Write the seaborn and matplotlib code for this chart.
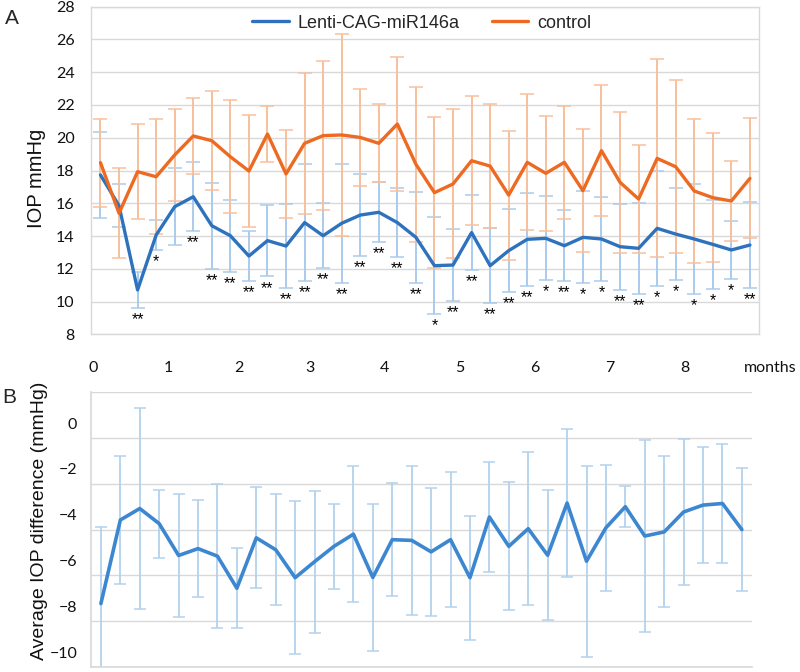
import numpy as np
import pandas as pd
import matplotlib
matplotlib.use("Agg")
import matplotlib.pyplot as plt
import matplotlib.transforms as mtransforms
import seaborn as sns

# ============================================================
# DATA
# ============================================================

# panel A - weekly IOP, mean and SD per group
weeks = list(range(36))
iop_mir = [17.73, 15.85, 10.71, 14.06, 15.79, 16.40, 14.63, 14.02, 12.78, 13.72,
           13.39, 14.82, 14.02, 14.78, 15.28, 15.45, 14.82, 13.92, 12.19, 12.23,
           14.21, 12.19, 13.11, 13.80, 13.86, 13.41, 13.92, 13.82, 13.35, 13.25,
           14.47, 14.12, 13.82, 13.49, 13.15, 13.45]
sd_mir = [2.64, 1.32, 1.08, 0.92, 2.34, 2.10, 2.63, 2.19, 1.53, 2.19,
          2.57, 3.58, 2.00, 3.63, 2.50, 1.84, 2.12, 2.77, 2.96, 2.20,
          2.29, 2.30, 2.55, 2.82, 2.56, 2.17, 2.80, 2.57, 2.62, 2.79,
          3.51, 2.80, 3.35, 2.70, 1.79, 2.62]
iop_ctrl = [18.48, 15.39, 17.93, 17.62, 18.95, 20.11, 19.82, 18.84, 17.97, 20.23,
            17.79, 19.66, 20.13, 20.17, 20.02, 19.66, 20.84, 18.38, 16.65, 17.18,
            18.60, 18.27, 16.50, 18.50, 17.83, 18.50, 16.77, 19.21, 17.28, 16.26,
            18.74, 18.23, 16.75, 16.34, 16.14, 17.52]
sd_ctrl = [2.68, 2.75, 2.90, 3.52, 2.80, 2.34, 3.02, 3.46, 3.43, 1.70,
           2.70, 4.32, 4.56, 6.17, 2.94, 2.38, 4.07, 4.73, 4.63, 4.55,
           3.94, 3.77, 3.94, 4.16, 3.52, 3.44, 3.75, 4.00, 4.30, 3.29,
           6.05, 5.27, 4.37, 3.94, 2.42, 3.66]
stars = ['', '', '**', '*', '', '**', '**', '**', '**', '**',
         '**', '**', '**', '**', '**', '**', '**', '**', '*', '**',
         '**', '**', '**', '**', '*', '**', '*', '*', '**', '**',
         '*', '*', '*', '*', '*', '**']
month_labels = ['0', '1', '2', '3', '4', '5', '6', '7', '8']
month_pos = [-0.4, 3.65, 7.45, 11.3, 15.3, 19.35, 23.4, 27.45, 31.5]

# panel B - average IOP difference
diff_weeks = list(range(34))
diff_mean = [-8.23, -4.58, -4.08, -4.74, -6.13, -5.83, -6.16, -7.56, -5.36, -5.88,
             -7.10, -6.40, -5.73, -5.20, -7.09, -5.44, -5.47, -5.97, -5.44, -7.10,
             -4.45, -5.73, -4.96, -6.12, -3.84, -6.38, -4.92, -4.00, -5.28, -5.10,
             -4.23, -3.93, -3.86, -5.00]
diff_err = [3.35, 2.79, 4.37, 1.49, 2.68, 2.13, 3.14, 1.75, 2.20, 2.42,
            3.34, 3.10, 1.85, 2.97, 3.22, 2.46, 3.26, 2.80, 2.96, 2.70,
            2.40, 2.80, 3.35, 2.83, 3.22, 4.17, 2.75, 0.89, 4.19, 3.30,
            3.20, 2.52, 2.58, 2.68]

# ============================================================
# STYLE
# ============================================================
sns.set_theme(style="white")
plt.rcParams['font.family'] = ['Liberation Sans', 'DejaVu Sans']

BLUE = '#2e72be'
BLUE_ERR = '#a9cbec'
ORANGE = '#ec6a22'
ORANGE_ERR = '#f8c09c'
GRID = '#d9d9d9'
TICKFONT = 'Lato'

fig = plt.figure(figsize=(8, 6.72), dpi=100)
axA = fig.add_axes([0.114, 0.5025, 0.835, 0.4875])
axB = fig.add_axes([0.114, 0.0074, 0.8255, 0.409])

# ============================================================
# PANEL A
# ============================================================
axA.errorbar(weeks, iop_mir, yerr=sd_mir, fmt='none', ecolor=BLUE_ERR,
             elinewidth=1.4, capsize=5, capthick=1.1)
axA.errorbar(weeks, iop_ctrl, yerr=sd_ctrl, fmt='none', ecolor=ORANGE_ERR,
             elinewidth=1.4, capsize=5, capthick=1.1)

dfA = pd.DataFrame({
    'week': weeks + weeks,
    'IOP': iop_mir + iop_ctrl,
    'group': ['Lenti-CAG-miR146a'] * len(weeks) + ['control'] * len(weeks),
})
sns.lineplot(data=dfA, x='week', y='IOP', hue='group',
             palette={'Lenti-CAG-miR146a': BLUE, 'control': ORANGE},
             linewidth=2.4, ax=axA)

for i, s in enumerate(stars):
    if s:
        axA.annotate(s, (weeks[i], iop_mir[i] - sd_mir[i]), xytext=(0, -3),
                     textcoords='offset points', ha='center', va='top',
                     fontsize=11.5, color='black')

axA.set_xlim(-0.5, 35.5)
axA.set_ylim(8, 28)
axA.set_yticks(range(8, 29, 2))
axA.set_xticks(month_pos)
axA.set_xticklabels(month_labels)
axA.grid(axis='y', color=GRID, linewidth=1)
axA.grid(axis='x', visible=False)
axA.tick_params(axis='both', length=0, labelsize=11.5, labelfontfamily=TICKFONT,
                labelcolor='#111111')
axA.tick_params(axis='y', pad=12)
axA.tick_params(axis='x', pad=19)
for sp in axA.spines.values():
    sp.set_color(GRID)
    sp.set_linewidth(1)
axA.set_xlabel('')
axA.set_ylabel('IOP mmHg', fontsize=14.5, color='#111111')
axA.yaxis.set_label_coords(-0.067, 0.477)
axA.text(1.016, -0.103, 'months', transform=axA.transAxes, ha='center', va='center',
         fontsize=11.5, fontfamily=TICKFONT, color='#111111')

axA.legend(loc='center', bbox_to_anchor=(0.495, 0.95), ncol=2, frameon=False,
           fontsize=13, handlelength=2.0, handletextpad=0.5, columnspacing=1.8)

# ============================================================
# PANEL B
# ============================================================
axB.errorbar(diff_weeks, diff_mean, yerr=diff_err, fmt='none', ecolor='#b3d2ee',
             elinewidth=1.3, capsize=4, capthick=1.1)
sns.lineplot(x=diff_weeks, y=diff_mean, color='#3d87d0', linewidth=2.6, ax=axB)

axB.set_xlim(-0.5, 33.5)
axB.set_ylim(-11, 1)
axB.set_xticks([])
axB.set_yticks(range(-10, 1, 2))
axB.set_yticks(range(-11, 2, 2), minor=True)
axB.grid(which='minor', axis='y', color=GRID, linewidth=1)
axB.grid(which='major', visible=False)
axB.tick_params(which='both', length=0)
axB.tick_params(axis='y', pad=10, labelsize=11.5, labelfontfamily=TICKFONT,
                labelcolor='#111111')
axB.spines['top'].set_visible(False)
axB.spines['right'].set_visible(False)
axB.spines['left'].set_color(GRID)
axB.spines['bottom'].set_color(GRID)
axB.set_ylabel('Average IOP difference (mmHg)', fontsize=14, color='#111111')
axB.yaxis.set_label_coords(-0.066, 0.531)

# labels in the original sit a little below their gridline
shift = mtransforms.ScaledTranslation(0, -8 / 100, fig.dpi_scale_trans)
for lab in axB.get_yticklabels():
    lab.set_transform(lab.get_transform() + shift)

fig.text(0.006, 0.973, 'A', fontsize=15, va='center', ha='left')
fig.text(0.003, 0.409, 'B', fontsize=15, va='center', ha='left')

fig.savefig('out.png', dpi=100)
